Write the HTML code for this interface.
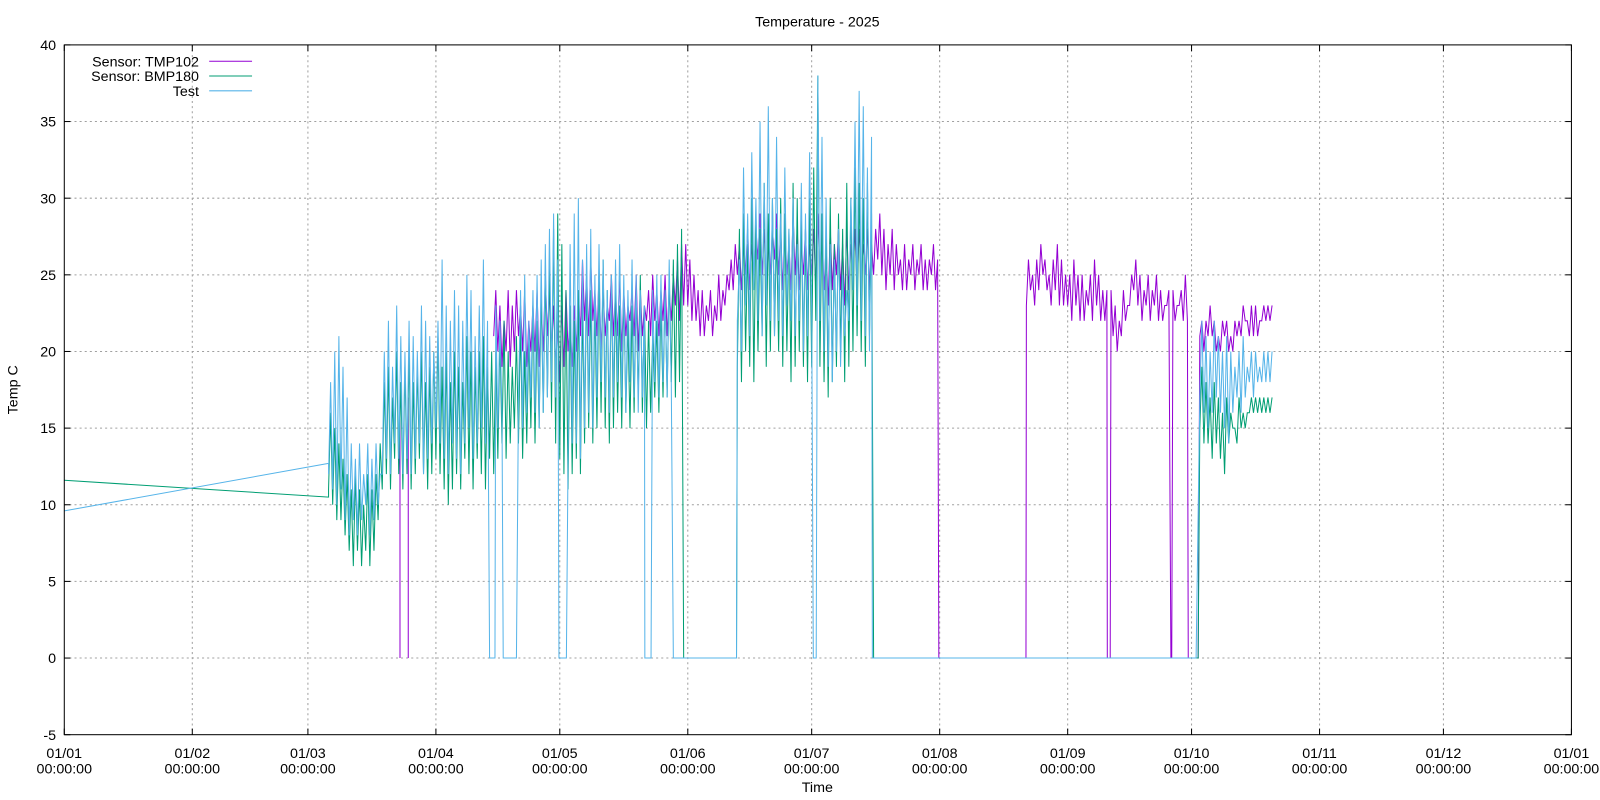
<!DOCTYPE html>
<html><head><meta charset="utf-8"><style>
html,body{margin:0;padding:0;background:#fff;}
svg{display:block;font-family:"Liberation Sans",sans-serif;}
</style></head><body>
<svg id="chart" width="1600" height="800" viewBox="0 0 1568 784" xmlns="http://www.w3.org/2000/svg">
<rect width="1568" height="784" fill="#fff"/>
<g id="grid"></g>
<g id="series"></g>
<g id="axes"></g>
<text x="801" y="26" font-size="14" text-anchor="middle">Temperature - 2025</text>
<text x="17" y="382" font-size="14" text-anchor="middle" transform="rotate(-90 17 382)">Temp C</text>
<text x="801" y="776" font-size="14" text-anchor="middle">Time</text>
<g id="legend"></g>
</svg>
<script>
const yTicks=[-5,0,5,10,15,20,25,30,35,40];
const monthDays=[0,31,59,90,120,151,181,212,243,273,304,334,365];
const monthLabels=["01/01","01/02","01/03","01/04","01/05","01/06","01/07","01/08","01/09","01/10","01/11","01/12","01/01"];

// Test (blue) daily hi/lo starting day 64
const testStart=64;
const testHi=[18,20,21,19,17,14,13,14,12,14, 13,14,12,20,22,19,23,21,20,22, 21,20,23,22,21,20,22,26,23,22, 24,23,22,25,24,21,23,26,22,24, 23,22,21,24,23,22,24,25,22,24, 25,26,27,28,29,26,28,25,27,29, 30,26,27,28,25,27,26,24,25,26, 27,25,24,26,25,24,23,26,24,25, 25,24,26,23,24,25, 0,0,0,0,0,0,0,0,0,0,0,0,0, 26,32,29,33,30,35,31,36,30,34, 29,32,28,30,27,31,29,33,32,38, 34,30,27,26,28,25,24,30,35,37, 36,32,34,30];
const testLo=[12,11,10,11,9,8,9,8,9,10, 8,9,10,12,13,12,14,13,12,13, 12,13,14,12,13,14,15,14,13,12, 14,13,12,14,15,13,14,15,14,15, 14,15,16,15,14,16,17,15,16,17, 16,15,16,17,18,17,15,14,13,14, 14,13,15,16,15,17,18,17,16,17, 18,17,16,18,17,16,17,18,17,18, 17,18,17,18,17,18, 0,0,0,0,0,0,0,0,0,0,0,0,0, 22,20,23,21,24,22,21,23,22,21, 22,21,23,22,21,22,20,21,23,24, 22,20,19,18,20,19,21,22,24,23, 22,21,20,21];
const testStart2=275;
const testHi2=[22,21,20,22,21,20,21,20,19,20,21,19,20,20,19,20,20,20];
const testLo2=[17,16,15,16,17,16,15,14,16,17,16,17,18,17,18,18,18,18];
const testLead=[[0,9.6],[64,12.7]];
const testDrops=[[103.0,104.3],[106.3,109.5],[119.8,121.6],[140.6,142.1],[147.5,162.8],[181.4,182.1],[195.7,274.1]];

// BMP180 (green)
const bmpStart=64;
const bmpHi=[16,15,14,13,12,11,12,11,10,12, 11,12,14,18,19,17,20,18,19,20, 18,19,20,18,19,20,21,19,20,18, 20,19,18,21,20,19,20,21,19,20, 20,21,22,20,19,21,22,20,21,23, 22,24,25,26,28,29,27,24,23,22, 24,23,25,24,23,25,26,24,25,24, 23,24,22,23,24,25,23,22,21,22, 23,24,25,26,27,28, 0,0,0,0,0,0,0,0,0,0,0,0,0, 28,29,27,30,29,28,31,29,30,28, 30,29,28,31,30,29,28,30,32,38, 29,28,30,27,29,28,31,30,32,31, 30,31,29,27];
const bmpLo=[11,10,9,9,8,7,6,7,6,7, 6,7,9,11,12,11,13,12,11,12, 11,12,13,12,11,12,13,12,11,10, 11,12,11,13,12,11,13,12,11,13, 12,13,14,13,14,15,14,13,14,15, 14,15,16,17,16,14,13,12,11,12, 13,12,14,15,14,15,16,15,14,15, 16,15,16,15,16,17,16,15,16,17, 16,17,17,18,17,18, 0,0,0,0,0,0,0,0,0,0,0,0,0, 19,18,20,19,18,20,21,19,20,21, 20,19,20,18,19,20,19,18,19,22, 19,18,17,18,19,20,18,19,20,21, 20,19,21,22];
const bmpStart2=275;
const bmpHi2=[19,18,17,18,17,16,17,16,15,17,16,16,17,17,17,17,17,17];
const bmpLo2=[15,14,14,13,14,13,12,14,15,14,15,15,16,16,16,16,16,16];
const bmpLead=[[0,11.6],[64,10.5]];
const bmpDrops=[[150,162.8],[196,274.6]];

// TMP102 (purple) starting day 104
const tmpStart=104;
const tmpHi=[
24,23,22,24,23,24,23,24,22,23, 24,23,25,24,23,22,23,24,22,23, 24,26,25,26,24,25,24,23,25,24, 25,24,23,24,25,24,23,24,25,24, 24,25,24,25,26,27,27,26,25,24, 24,23,24,23,25,24,25,26,27,27, 27,28,27,28,29,28,27,28,29,28, 28,27,29,28,27,28,27,28,29,28, 27,28,27,28,27,28,27,28,28,27, 28,27,28,29,28,27,28,27,26,27, 26,27,26,27,26,26,27,26,0,0, 0,0,0,0,0,0,0,0,0,0, 0,0,0,0,0,0,0,0,0,
26,25,26,27,26,25,26,27,26,25, 25,26,25,25,24,25,26,25,24,24, 24,23,22,24,23,25,26,25,24,25, 24,25,24,23,24,24,23,24,25,25, 22,23,22,22,23,22,21,22,22,21, 22,22,23,22,23,23,22,23,23,23];
const tmpLo=[
21,20,19,20,19,20,21,20,19,20, 20,19,20,21,20,19,18,19,20,19, 20,21,22,21,22,21,20,21,22,21, 21,20,21,22,21,20,21,22,21,22, 21,22,21,22,23,22,23,23,22,22, 21,21,22,21,22,22,23,24,24,25, 24,25,24,25,26,25,24,25,26,25, 24,25,24,25,24,25,24,25,24,25, 24,23,24,25,24,23,24,25,24,25, 25,24,25,26,25,24,25,24,25,24, 24,25,24,25,24,24,25,24,0,0, 0,0,0,0,0,0,0,0,0,0, 0,0,0,0,0,0,0,0,0,
23,24,23,24,25,24,23,24,23,23, 23,22,23,22,22,23,22,23,22,22, 22,21,20,21,22,23,24,23,22,23, 22,23,22,22,23,22,22,23,22,22, 21,20,21,20,21,21,20,20,21,20, 20,21,21,22,21,21,21,22,22,22];
const tmpDrops=[[211.8,232.9],[252.6,253.3],[268.0,268.2],[272.2,274.6]];
// isolated purple spikes to zero before main series [day, value]
const tmpSpikeDays=[81.3,83.3];
const tmpSpikeVals=[16,17];

const X0=63,X1=1540,Y0=720,Y1=44;
const xS=d=>X0+(d/365)*(X1-X0);
const yS=v=>Y0-(v+5)/45*(Y0-Y1);
const NS="http://www.w3.org/2000/svg";
function mk(tag,attrs,parent){const e=document.createElementNS(NS,tag);for(const k in attrs)e.setAttribute(k,attrs[k]);parent.appendChild(e);return e;}
const grid=document.getElementById('grid'),axes=document.getElementById('axes'),series=document.getElementById('series'),legend=document.getElementById('legend');

yTicks.forEach(v=>{const y=yS(v);
 if(v>-5&&v<40){const g=mk('line',{x1:X0,x2:X1,y1:y,y2:y,stroke:'#a0a0a0','stroke-dasharray':'2,3','stroke-width':1},grid);
 
 }
 const t=mk('text',{x:55,y:y+5,'font-size':14,'text-anchor':'end'},axes);t.textContent=v;
 
 
 mk('line',{x1:X0,x2:X0+6,y1:y,y2:y,stroke:'#000'},axes);mk('line',{x1:X1,x2:X1-6,y1:y,y2:y,stroke:'#000'},axes);
});
monthDays.forEach((d,i)=>{const x=xS(d);
 if(i>0&&i<12){const g=mk('line',{x1:x,x2:x,y1:Y1,y2:Y0,stroke:'#a0a0a0','stroke-dasharray':'2,3','stroke-width':1},grid);
 
 }
 const t=mk('text',{x:x,y:743,'font-size':14,'text-anchor':'middle'},axes);t.textContent=monthLabels[i];
 
 
 const t2=mk('text',{x:x,y:758,'font-size':14,'text-anchor':'middle'},axes);t2.textContent="00:00:00";
 
 
 mk('line',{x1:x,x2:x,y1:Y0,y2:Y0-6,stroke:'#000'},axes);mk('line',{x1:x,x2:x,y1:Y1,y2:Y1+6,stroke:'#000'},axes);
});
const frame=mk('rect',{x:X0,y:Y1,width:X1-X0,height:Y0-Y1,fill:'none',stroke:'#000','stroke-width':1},axes);



function build(lead,segs,drops){
 let pts=lead?lead.slice():[];
 segs.forEach(([st,hi,lo])=>{for(let i=0;i<hi.length;i++){pts.push([st+i,lo[i]]);pts.push([st+i+0.5,hi[i]]);}});
 pts=pts.filter(p=>!drops.some(([a,b])=>p[0]>=a&&p[0]<=b));
 drops.forEach(([a,b])=>{pts.push([a,0]);pts.push([b,0]);});
 pts.sort((p,q)=>p[0]-q[0]);
 return pts;
}
function draw(pts,color,name){
 const d=pts.map((p,i)=>(i?'L':'M')+xS(p[0]).toFixed(2)+','+yS(p[1]).toFixed(2)).join('');
 const p=mk('path',{d:d,fill:'none',stroke:color,'stroke-width':1},series);
 
 
}
tmpSpikeDays.forEach((d,i)=>{
 const l=mk('line',{x1:xS(d),x2:xS(d),y1:yS(tmpSpikeVals[i]),y2:yS(0),stroke:'#9400d3','stroke-width':1},series);
 
 
});
draw(build(null,[[tmpStart,tmpHi,tmpLo]],tmpDrops),'#9400d3','series-tmp102');
draw(build(bmpLead,[[bmpStart,bmpHi,bmpLo],[bmpStart2,bmpHi2,bmpLo2]],bmpDrops),'#009e73','series-bmp180');
draw(build(testLead,[[testStart,testHi,testLo],[testStart2,testHi2,testLo2]],testDrops),'#56b4e9','series-test');

[["Sensor: TMP102",'#9400d3'],["Sensor: BMP180",'#009e73'],["Test",'#56b4e9']].forEach(([lab,c],i)=>{
 const y=60+i*14.5;
 const t=mk('text',{x:195,y:y+5,'font-size':14,'text-anchor':'end'},legend);t.textContent=lab;
 
 
 const l=mk('line',{x1:205,x2:247,y1:y,y2:y,stroke:c,'stroke-width':1},legend);
 
 
});
</script>
</body></html>
